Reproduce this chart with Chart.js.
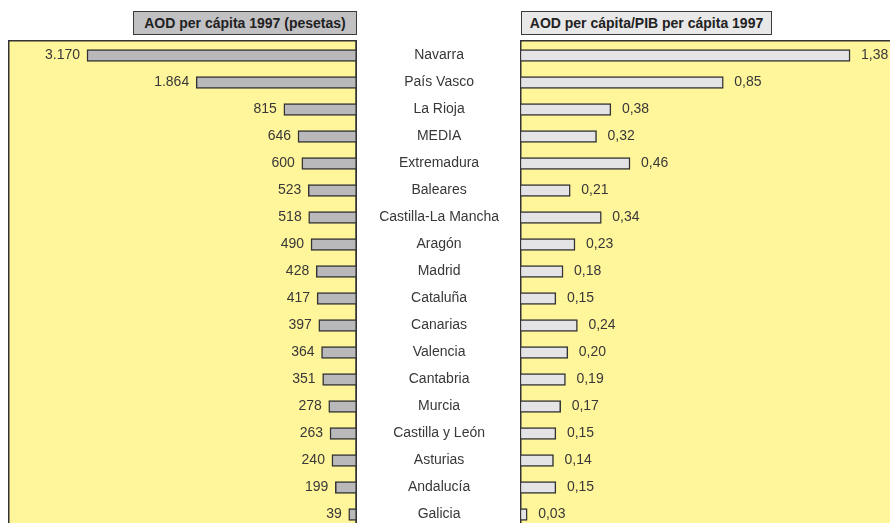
<!DOCTYPE html>
<html><head><meta charset="utf-8">
<script src="https://cdn.jsdelivr.net/npm/chart.js@4/dist/chart.umd.min.js"></script>
<style>
html,body{margin:0;padding:0;background:#fff;overflow:hidden;width:890px;height:523px;}
#cL{position:absolute;left:0;top:0;}
#cR{position:absolute;left:357px;top:0;}
.hdr{position:absolute;top:11px;height:22px;line-height:22px;border:1px solid #3a3a3a;font-family:"Liberation Sans",Arial,sans-serif;font-weight:bold;font-size:14px;color:#222;text-align:center;box-sizing:content-box;white-space:nowrap;}
#hL{left:133px;width:222px;background:#c1c1c4;}
#hR{left:521px;width:249px;background:#e8e8e9;}
</style></head><body>
<canvas id="cL" width="360" height="530"></canvas>
<canvas id="cR" width="533" height="530"></canvas>
<div class="hdr" id="hL">AOD per cápita 1997 (pesetas)</div>
<div class="hdr" id="hR">AOD per cápita/PIB per cápita 1997</div>
<script>
const regions = ["Navarra","País Vasco","La Rioja","MEDIA","Extremadura","Baleares","Castilla-La Mancha","Aragón","Madrid","Cataluña","Canarias","Valencia","Cantabria","Murcia","Castilla y León","Asturias","Andalucía","Galicia"];
const aodPerCapita = [3170,1864,815,646,600,523,518,490,428,417,397,364,351,278,263,240,199,39];
const aodPibRatio = [1.38,0.85,0.38,0.32,0.46,0.21,0.34,0.23,0.18,0.15,0.24,0.20,0.19,0.17,0.15,0.14,0.15,0.03];

const FONT = '"Liberation Sans", Arial, sans-serif';
const TXT = '#383838';
const YELLOW = '#fff59b';
const EDGE = '#333333';

function fmtThousands(v){return String(v).replace(/\B(?=(\d{3})+(?!\d))/g,'.');}
function fmtDec(v){return v.toFixed(2).replace('.',',');}

function panelPlugin(side){
  return {
    id:'panel'+side,
    beforeDraw(chart){
      const a=chart.chartArea, c=chart.ctx, top=a.top-2;
      c.save();
      c.fillStyle=YELLOW;
      c.fillRect(a.left,top,a.right-a.left,a.bottom-top);
      c.strokeStyle=EDGE;c.lineWidth=1.5;
      c.beginPath();
      c.moveTo(a.left+0.75,a.bottom);c.lineTo(a.left+0.75,top+0.75);c.lineTo(a.right,top+0.75);
      if(side==='L'){c.lineTo(a.right-0.75,top+0.75);c.lineTo(a.right-0.75,a.bottom);}
      c.stroke();
      c.restore();
    },
    afterDatasetsDraw(chart){
      const c=chart.ctx, meta=chart.getDatasetMeta(0), a=chart.chartArea;
      c.save();
      c.font='14px '+FONT;c.fillStyle=TXT;c.textBaseline='middle';
      if(side==='L'){
        c.strokeStyle=EDGE;c.lineWidth=1.5;c.beginPath();c.moveTo(a.right-0.75,a.top-2);c.lineTo(a.right-0.75,a.bottom);c.stroke();
      }
      meta.data.forEach((bar,i)=>{
        const v=chart.data.datasets[0].data[i];
        if(side==='L'){c.textAlign='right';c.fillText(fmtThousands(v),bar.x-7,bar.y);}
        else{c.textAlign='left';c.fillText(fmtDec(v),bar.x+11,bar.y);}
      });
      c.restore();
    }
  };
}

new Chart(document.getElementById('cL'),{
  type:'bar',
  data:{labels:regions,datasets:[{data:aodPerCapita,base:-60,backgroundColor:'#b9b9bc',borderColor:EDGE,borderWidth:1.5,borderSkipped:false,barThickness:12}]},
  options:{
    indexAxis:'y',responsive:false,maintainAspectRatio:false,animation:false,devicePixelRatio:1,
    layout:{padding:{left:8,right:3,top:42,bottom:2}},
    plugins:{legend:{display:false},tooltip:{enabled:false}},
    scales:{
      x:{display:false,reverse:true,min:-60,max:4115},
      y:{display:false}
    }
  },
  plugins:[panelPlugin('L')]
});

new Chart(document.getElementById('cR'),{
  type:'bar',
  data:{labels:regions,datasets:[{data:aodPibRatio,backgroundColor:'#e4e4e6',borderColor:EDGE,borderWidth:1.5,borderSkipped:false,barThickness:12}]},
  options:{
    indexAxis:'y',responsive:false,maintainAspectRatio:false,animation:false,devicePixelRatio:1,
    layout:{padding:{left:0,right:0,top:42,bottom:2}},
    plugins:{legend:{display:false},tooltip:{enabled:false}},
    scales:{
      x:{display:false,min:0,max:1.547},
      y:{
        grid:{display:false,drawTicks:false},border:{display:false},
        ticks:{crossAlign:'center',padding:21,color:TXT,font:{family:FONT,size:14}},
        afterFit(s){s.width=163;s.paddingTop=0;s.paddingBottom=0;}
      }
    }
  },
  plugins:[panelPlugin('R')]
});
</script>
</body></html>
